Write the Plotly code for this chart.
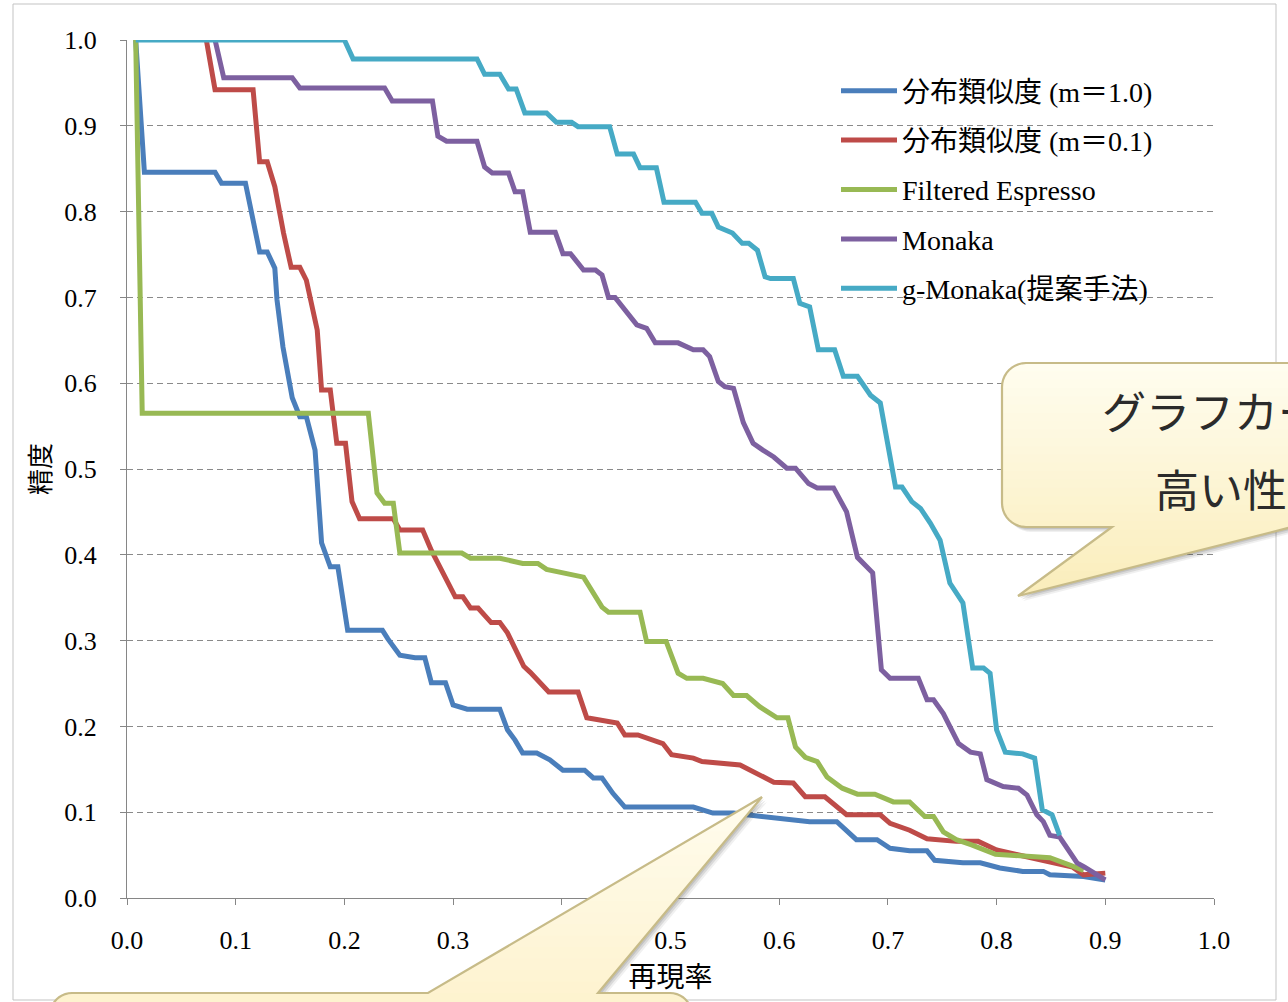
import plotly.graph_objects as go

# ---------------- data: recall (x) / precision (y) per method ----------------
recall_m10 = [0.008, 0.016, 0.081, 0.087, 0.109, 0.122, 0.129, 0.136, 0.138, 0.1435,
              0.152, 0.159, 0.165, 0.173, 0.179, 0.187, 0.194, 0.199, 0.203, 0.235,
              0.240, 0.251, 0.265, 0.274, 0.280, 0.293, 0.300, 0.313, 0.343, 0.350,
              0.357, 0.364, 0.377, 0.389, 0.401, 0.421, 0.429, 0.437, 0.447, 0.458,
              0.521, 0.539, 0.558, 0.570, 0.604, 0.628, 0.653, 0.658, 0.671, 0.690,
              0.702, 0.720, 0.736, 0.743, 0.769, 0.785, 0.803, 0.824, 0.843, 0.849,
              0.868, 0.880, 0.900]
precision_m10 = [1.000, 0.846, 0.846, 0.833, 0.833, 0.753, 0.753, 0.734, 0.697, 0.642,
                 0.583, 0.561, 0.561, 0.522, 0.414, 0.386, 0.386, 0.347, 0.312, 0.312,
                 0.302, 0.283, 0.280, 0.280, 0.251, 0.251, 0.225, 0.220, 0.220, 0.196,
                 0.184, 0.169, 0.169, 0.161, 0.149, 0.149, 0.140, 0.140, 0.122, 0.106,
                 0.106, 0.099, 0.099, 0.097, 0.093, 0.089, 0.089, 0.083, 0.068, 0.068,
                 0.058, 0.055, 0.055, 0.044, 0.041, 0.041, 0.035, 0.031, 0.031, 0.027,
                 0.026, 0.025, 0.021]

recall_m01 = [0.073, 0.081, 0.116, 0.122, 0.129, 0.136, 0.144, 0.151, 0.159, 0.165,
              0.175, 0.179, 0.187, 0.193, 0.201, 0.207, 0.214, 0.245, 0.251, 0.272,
              0.280, 0.302, 0.309, 0.316, 0.323, 0.335, 0.343, 0.350, 0.365, 0.371,
              0.388, 0.415, 0.423, 0.451, 0.458, 0.470, 0.493, 0.501, 0.521, 0.529,
              0.564, 0.576, 0.595, 0.613, 0.624, 0.642, 0.662, 0.693, 0.702, 0.720,
              0.736, 0.763, 0.783, 0.800, 0.849, 0.870, 0.880, 0.900]
precision_m01 = [1.000, 0.942, 0.942, 0.858, 0.858, 0.829, 0.775, 0.735, 0.735, 0.720,
                 0.662, 0.592, 0.592, 0.530, 0.530, 0.462, 0.442, 0.442, 0.429, 0.429,
                 0.405, 0.351, 0.351, 0.338, 0.338, 0.321, 0.321, 0.309, 0.270, 0.263,
                 0.240, 0.240, 0.210, 0.204, 0.190, 0.190, 0.180, 0.167, 0.163, 0.159,
                 0.155, 0.147, 0.135, 0.134, 0.118, 0.118, 0.097, 0.097, 0.087, 0.079,
                 0.069, 0.066, 0.066, 0.056, 0.042, 0.036, 0.027, 0.029]

recall_fe = [0.008, 0.014, 0.222, 0.230, 0.237, 0.245, 0.251, 0.308, 0.316, 0.343,
             0.364, 0.378, 0.386, 0.401, 0.420, 0.437, 0.443, 0.472, 0.478, 0.496,
             0.507, 0.515, 0.530, 0.548, 0.558, 0.570, 0.582, 0.598, 0.608, 0.615,
             0.624, 0.635, 0.644, 0.658, 0.672, 0.688, 0.705, 0.720, 0.734, 0.742,
             0.751, 0.763, 0.777, 0.799, 0.849, 0.868, 0.880]
precision_fe = [1.000, 0.565, 0.565, 0.472, 0.460, 0.460, 0.402, 0.402, 0.396, 0.396,
                0.390, 0.390, 0.383, 0.379, 0.374, 0.339, 0.333, 0.333, 0.299, 0.299,
                0.262, 0.256, 0.256, 0.250, 0.236, 0.236, 0.223, 0.210, 0.210, 0.176,
                0.164, 0.159, 0.141, 0.128, 0.121, 0.121, 0.112, 0.112, 0.095, 0.095,
                0.077, 0.068, 0.062, 0.051, 0.047, 0.038, 0.032]

recall_monaka = [0.081, 0.089, 0.152, 0.159, 0.237, 0.244, 0.281, 0.286, 0.294, 0.322,
                 0.329, 0.336, 0.351, 0.357, 0.364, 0.371, 0.394, 0.401, 0.408, 0.420,
                 0.431, 0.437, 0.443, 0.449, 0.469, 0.478, 0.486, 0.507, 0.521, 0.530,
                 0.536, 0.544, 0.550, 0.558, 0.567, 0.576, 0.585, 0.595, 0.607, 0.615,
                 0.627, 0.635, 0.650, 0.662, 0.672, 0.686, 0.694, 0.702, 0.728, 0.736,
                 0.742, 0.751, 0.765, 0.776, 0.785, 0.791, 0.806, 0.820, 0.828, 0.837,
                 0.843, 0.849, 0.858, 0.874, 0.881, 0.900]
precision_monaka = [1.000, 0.956, 0.956, 0.944, 0.944, 0.929, 0.929, 0.888, 0.882, 0.882,
                    0.852, 0.845, 0.845, 0.823, 0.823, 0.776, 0.776, 0.751, 0.751, 0.732,
                    0.732, 0.726, 0.700, 0.700, 0.668, 0.664, 0.647, 0.647, 0.639, 0.639,
                    0.631, 0.602, 0.596, 0.594, 0.554, 0.530, 0.522, 0.514, 0.501, 0.501,
                    0.483, 0.478, 0.478, 0.450, 0.397, 0.379, 0.266, 0.256, 0.256, 0.231,
                    0.231, 0.215, 0.180, 0.170, 0.168, 0.138, 0.130, 0.128, 0.120, 0.097,
                    0.089, 0.073, 0.071, 0.041, 0.036, 0.021]

recall_gmonaka = [0.008, 0.200, 0.208, 0.322, 0.329, 0.343, 0.351, 0.358, 0.366, 0.386,
                  0.395, 0.409, 0.415, 0.444, 0.451, 0.466, 0.472, 0.487, 0.494, 0.523,
                  0.529, 0.538, 0.544, 0.557, 0.566, 0.572, 0.580, 0.587, 0.592, 0.613,
                  0.619, 0.628, 0.636, 0.651, 0.659, 0.672, 0.684, 0.693, 0.707, 0.713,
                  0.722, 0.730, 0.739, 0.748, 0.757, 0.769, 0.778, 0.788, 0.794, 0.800,
                  0.808, 0.824, 0.835, 0.842, 0.851, 0.858]
precision_gmonaka = [1.000, 1.000, 0.978, 0.978, 0.960, 0.960, 0.943, 0.943, 0.915, 0.915,
                     0.904, 0.904, 0.899, 0.899, 0.867, 0.867, 0.851, 0.851, 0.811, 0.811,
                     0.798, 0.798, 0.782, 0.775, 0.763, 0.763, 0.755, 0.724, 0.722, 0.722,
                     0.693, 0.689, 0.639, 0.639, 0.608, 0.608, 0.586, 0.577, 0.479, 0.479,
                     0.462, 0.454, 0.437, 0.417, 0.367, 0.344, 0.268, 0.268, 0.262, 0.196,
                     0.170, 0.168, 0.163, 0.103, 0.097, 0.073]

series_names = ["分布類似度 (m＝1.0)", "分布類似度 (m＝0.1)", "Filtered Espresso",
                "Monaka", "g-Monaka(提案手法)"]
series_x = [recall_m10, recall_m01, recall_fe, recall_monaka, recall_gmonaka]
series_y = [precision_m10, precision_m01, precision_fe, precision_monaka, precision_gmonaka]
series_colors = ["#4A7EBB", "#BE4B48", "#98B954", "#7D60A0", "#46AAC5"]

axis_ticks = [round(i * 0.1, 1) for i in range(11)]
x_title = "再現率"
y_title = "精度"
callout_right_lines = ["グラフカー", "高い性"]

# ---------------- layout geometry (pixels) ----------------
W, H = 1288, 1002
PL, PR, PT, PB = 127, 1214, 40, 898
SERIF = "Liberation Serif, Times New Roman, Noto Sans CJK JP, serif"


def paper(px, py):
    return (px - PL) / (PR - PL), (PB - py) / (PB - PT)


def arc(cx, cy, r, a0, a1, n=10):
    import math
    pts = []
    for i in range(n + 1):
        a = math.radians(a0 + (a1 - a0) * i / n)
        pts.append((cx + r * math.cos(a), cy + r * math.sin(a)))
    return pts


def clip_half(poly, yc, keep_ge):
    out = []
    if not poly:
        return out
    def inside(p):
        return p[1] >= yc if keep_ge else p[1] <= yc
    for i in range(len(poly)):
        cur, prev = poly[i], poly[i - 1]
        ci, pi = inside(cur), inside(prev)
        if ci != pi:
            t = (yc - prev[1]) / (cur[1] - prev[1])
            out.append((prev[0] + t * (cur[0] - prev[0]), yc))
        if ci:
            out.append(cur)
    return out


def to_path(poly, dx=0.0, dy=0.0):
    parts = []
    for i, (x, y) in enumerate(poly):
        u, v = paper(x + dx, y + dy)
        parts.append(("M" if i == 0 else "L") + f"{u:.5f},{v:.5f}")
    return " ".join(parts) + " Z"


def hex_rgb(h):
    return tuple(int(h[i:i + 2], 16) for i in (1, 3, 5))


def lerp_color(c0, c1, t):
    a, b = hex_rgb(c0), hex_rgb(c1)
    return "rgb(%d,%d,%d)" % tuple(round(a[k] + (b[k] - a[k]) * t) for k in range(3))


def callout_shapes(poly, y_top, y_bot, c_top, c_bot, bands=28):
    shapes = []
    # soft drop shadow
    for off, alpha in ((5, 0.08), (3.5, 0.12), (2, 0.14)):
        shapes.append(dict(type="path", path=to_path(poly, off, off), xref="paper", yref="paper",
                           fillcolor=f"rgba(60,60,60,{alpha})", line=dict(width=0), layer="above"))
    ys = [min(p[1] for p in poly), max(p[1] for p in poly)]
    step = (ys[1] - ys[0]) / bands
    for i in range(bands):
        y0 = ys[0] + i * step
        y1 = y0 + step + 1.0
        piece = clip_half(clip_half(poly, y0, True), y1, False)
        if len(piece) < 3:
            continue
        t = ((y0 + step / 2) - y_top) / (y_bot - y_top)
        t = max(0.0, min(1.0, t))
        shapes.append(dict(type="path", path=to_path(piece), xref="paper", yref="paper",
                           fillcolor=lerp_color(c_top, c_bot, t), line=dict(width=0), layer="above"))
    shapes.append(dict(type="path", path=to_path(poly), xref="paper", yref="paper",
                       fillcolor="rgba(0,0,0,0)", line=dict(color="#C7BB88", width=2.2),
                       layer="above"))
    return shapes


# right-hand callout (rounded box with pointer to lower left)
L, T, R, B, r = 1002, 363, 1420, 527, 24
right_poly = (arc(L + r, T + r, r, 180, 270) + arc(R - r, T + r, r, 270, 360)
              + arc(R - r, B - r, r, 0, 90) + [(1292, B), (1018, 596), (1112, B)]
              + arc(L + r, B - r, r, 90, 180))

# bottom callout (box below the axis with pointer up to the curves)
L2, T2, R2, B2, r2 = 50, 993, 692, 1120, 22
bottom_poly = (arc(L2 + r2, T2 + r2, r2, 180, 270) + [(428, T2), (762, 797), (598, T2)]
               + arc(R2 - r2, T2 + r2, r2, 270, 360) + arc(R2 - r2, B2 - r2, r2, 0, 90)
               + arc(L2 + r2, B2 - r2, r2, 90, 180))

fig = go.Figure()
for i, (name, xs, ys, col) in enumerate(zip(series_names, series_x, series_y, series_colors)):
    fig.add_trace(go.Scatter(x=xs, y=ys, mode="lines", name=name, legendgroup=f"g{i}",
                             line=dict(color=col, width=5)))

shapes = []
fx0, fy0 = paper(13, 4)
fx1, fy1 = paper(1276, 1000)
shapes.append(dict(type="rect", xref="paper", yref="paper", x0=fx0, y0=fy1, x1=fx1, y1=fy0,
                   line=dict(color="#C3C3C3", width=1), fillcolor="rgba(0,0,0,0)", layer="below"))
shapes += callout_shapes(right_poly, 363, 596, "#FFFDF0", "#FAEDBA")
shapes += callout_shapes(bottom_poly, 797, 1060, "#FFFCEE", "#FDF0C6")

annotations = []
for txt, (px, py) in zip(callout_right_lines, [(1100, 410), (1153, 488)]):
    u, v = paper(px, py)
    annotations.append(dict(text=txt, x=u, y=v, xref="paper", yref="paper", xanchor="left",
                            yanchor="middle", showarrow=False,
                            font=dict(family="Noto Sans CJK JP", size=44, color="#2B2B2B")))

axis_common = dict(range=[0, 1], tickvals=axis_ticks, tickformat=".1f", ticks="outside",
                   ticklen=6, tickcolor="#868686", showline=True, linecolor="#868686",
                   linewidth=1, zeroline=False, fixedrange=True,
                   tickfont=dict(family=SERIF, size=26, color="#000000"))

fig.update_layout(
    width=W, height=H,
    margin=dict(l=PL, r=W - PR, t=PT, b=H - PB, autoexpand=False),
    paper_bgcolor="white", plot_bgcolor="white",
    showlegend=True,
    legend=dict(x=paper(836, 0)[0], y=paper(0, 66)[1], xanchor="left", yanchor="top",
                bgcolor="rgba(0,0,0,0)", borderwidth=0, tracegroupgap=10, itemwidth=56,
                font=dict(family=SERIF, size=28, color="#000000")),
    xaxis=dict(**axis_common, showgrid=False, ticklabelstandoff=13,
               title=dict(text=x_title, standoff=6,
                          font=dict(family="Noto Sans CJK JP", size=28, color="#000000"))),
    yaxis=dict(**axis_common, showgrid=True, gridcolor="#8A8A8A", gridwidth=1.2,
               griddash="6px,4px", ticklabelstandoff=18,
               title=dict(text=y_title, standoff=6,
                          font=dict(family="Noto Sans CJK JP", size=26, color="#000000"))),
    shapes=shapes,
    annotations=annotations,
)

fig.write_html("out.html")
